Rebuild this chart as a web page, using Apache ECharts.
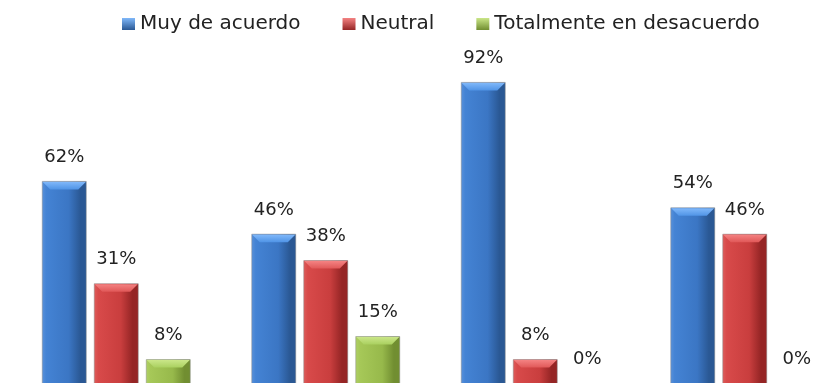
<!DOCTYPE html>
<html>
<head>
<meta charset="utf-8">
<script src="https://cdn.jsdelivr.net/npm/echarts@6/dist/echarts.min.js"></script>
<style>
  html, body { margin: 0; padding: 0; background: #ffffff; }
  #chart { width: 836px; height: 383px; }
</style>
</head>
<body>
<div id="chart"></div>
<script>
// Survey answers per question, in percent
const categories = ['Pregunta 1', 'Pregunta 2', 'Pregunta 3', 'Pregunta 4'];
const seriesNames = ['Muy de acuerdo', 'Neutral', 'Totalmente en desacuerdo'];
const muyDeAcuerdo = [62, 46, 92, 54];
const neutral = [31, 38, 8, 46];
const totalmenteEnDesacuerdo = [8, 15, 0, 0];

// Bevelled bar palette: [left edge, light, body, dark edge, bevel top, bevel bottom]
const palettes = [
  ['#5a92da', '#4483d4', '#3b76c4', '#2a5894', '#80b8fa', '#5094e6'],
  ['#de5e5c', '#d84a4a', '#c93e3e', '#952525', '#f48282', '#e05858'],
  ['#b0d066', '#a6c858', '#97b94b', '#718e31', '#cae688', '#aad060']
];

const BAR_W = 44;
const BAR_GAP = 8;
const BEVEL = 8;

function makeRenderer(si) {
  const p = palettes[si];
  return function (params, api) {
    const idx = api.value(0);
    const val = api.value(1);
    const base = api.coord([idx, 0]);
    const top = api.coord([idx, val]);
    const cx = base[0] + (si - 1) * (BAR_W + BAR_GAP) - 0.5;
    const x = cx - BAR_W / 2;
    const h = base[1] - top[1];
    const children = [];
    if (h > 0) {
      children.push({
        type: 'rect',
        shape: { x: x, y: top[1], width: BAR_W, height: h },
        style: {
          fill: new echarts.graphic.LinearGradient(0, 0, 1, 0, [
            { offset: 0, color: p[0] },
            { offset: 0.1, color: p[1] },
            { offset: 0.6, color: p[2] },
            { offset: 0.86, color: p[3] },
            { offset: 1, color: p[3] }
          ]),
          stroke: 'rgba(140,140,140,0.5)',
          lineWidth: 1
        }
      });
      const b = Math.min(BEVEL, h);
      children.push({
        type: 'polygon',
        shape: {
          points: [
            [x + 0.5, top[1] + 0.5],
            [x + BAR_W - 0.5, top[1] + 0.5],
            [x + BAR_W - b, top[1] + b],
            [x + b, top[1] + b]
          ]
        },
        style: {
          fill: new echarts.graphic.LinearGradient(0, 0, 0, 1, [
            { offset: 0, color: p[4] },
            { offset: 1, color: p[5] }
          ])
        }
      });
    }
    children.push({
      type: 'text',
      style: {
        text: val + '%',
        x: cx,
        y: top[1] - (h > 0 ? 24 : 27),
        align: 'center',
        verticalAlign: 'middle',
        fill: '#222222',
        font: '18px "DejaVu Sans"'
      }
    });
    return { type: 'group', children: children };
  };
}

const values = [muyDeAcuerdo, neutral, totalmenteEnDesacuerdo];

const chart = echarts.init(document.getElementById('chart'), null, { renderer: 'canvas' });
chart.setOption({
  animation: false,
  backgroundColor: '#ffffff',
  legend: {
    left: 117,
    top: 9,
    itemWidth: 13,
    itemHeight: 12,
    itemGap: 42,
    icon: 'rect',
    textStyle: { fontFamily: 'DejaVu Sans', fontSize: 20, color: '#222222' },
    data: seriesNames.map(function (n, i) {
      return {
        name: n,
        itemStyle: {
          color: new echarts.graphic.LinearGradient(0, 0, 0, 1, [
            { offset: 0, color: palettes[i][4] },
            { offset: 1, color: palettes[i][3] }
          ])
        }
      };
    })
  },
  grid: { left: 12, top: 56, width: 838, height: 330, outerBoundsMode: 'none', containLabel: false },
  xAxis: { type: 'category', data: categories, show: false },
  yAxis: { type: 'value', min: 0, max: 100, show: false },
  series: seriesNames.map(function (n, i) {
    return {
      name: n,
      type: 'custom',
      renderItem: makeRenderer(i),
      itemStyle: { color: palettes[i][2] },
      encode: { x: 0, y: 1 },
      data: values[i].map(function (v, k) { return [k, v]; }),
      clip: false
    };
  })
});
</script>
</body>
</html>
